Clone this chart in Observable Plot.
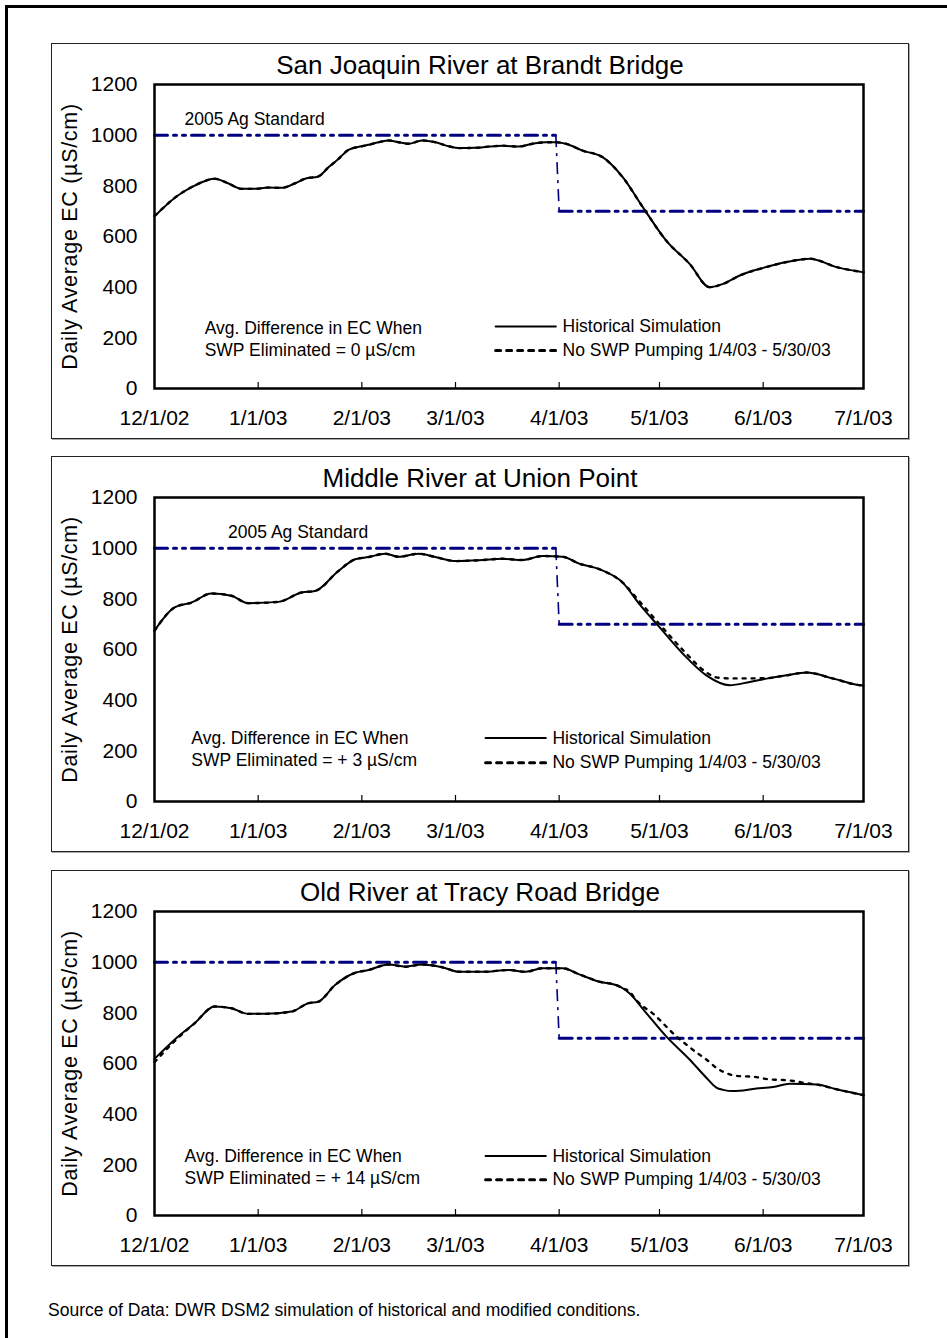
<!DOCTYPE html>
<html><head><meta charset="utf-8">
<script src="https://cdn.jsdelivr.net/npm/d3@7"></script>
<script src="https://cdn.jsdelivr.net/npm/@observablehq/plot@0.6"></script>
<style>
body{margin:0;background:#fff;font-family:"Liberation Sans",Arial,sans-serif;}
#page{position:relative;width:947px;height:1338px;overflow:hidden;background:#fff;}
#outer{position:absolute;left:5px;top:5px;width:1000px;height:1400px;border-left:3px solid #000;border-top:3px solid #000;}
.panel{position:absolute;left:51px;width:858px;height:396px;box-shadow:inset 0 0 0 1px #222,1px 1px 0 #aaa;}
.panel svg{position:absolute;left:0;top:0;}
.panel svg g[aria-label="y-axis label"] text{letter-spacing:0.7px;font-size:21.5px;}
.title{position:absolute;left:0;top:8px;width:858px;text-align:center;font-size:26px;line-height:28px;color:#000;}
#source{position:absolute;left:48px;top:1300px;font-size:17.5px;color:#000;}
</style>
</head><body>
<div id="page">
<div id="outer"></div>
<div id="source">Source of Data: DWR DSM2 simulation of historical and modified conditions.</div>
</div>
<script>
// ---------- axis ticks ----------
const tickDates = ["2002-12-01","2003-01-01","2003-02-01","2003-03-01","2003-04-01","2003-05-01","2003-06-01","2003-07-01"];
const tickLabels = ["12/1/02","1/1/03","2/1/03","3/1/03","4/1/03","5/1/03","6/1/03","7/1/03"];
const yTicks = [0,200,400,600,800,1000,1200];
const yLabel = "Daily Average EC (µS/cm)";

// ---------- 2005 Ag standard (step at 4/1/03) ----------
const stdDates = ["2002-12-01","2003-03-31","2003-04-01","2003-07-01"];
const stdValues = [1000,1000,700,700];

// ---------- panel titles & notes ----------
const titles = ["San Joaquin River at Brandt Bridge","Middle River at Union Point","Old River at Tracy Road Bridge"];
const notes = ["Avg. Difference in EC When\nSWP Eliminated = 0 µS/cm","Avg. Difference in EC When\nSWP Eliminated = + 3 µS/cm","Avg. Difference in EC When\nSWP Eliminated = + 14 µS/cm"];
const noteDates = ["2002-12-16","2002-12-12","2002-12-10"];
const noteValues = [200,210,194];
const stdLabelText = ["2005 Ag Standard","2005 Ag Standard",""];
const stdLabelDates = ["2002-12-10","2002-12-23","2002-12-10"];
const stdLabelValues = [1062,1063,1062];
const legendNames = ["Historical Simulation","No SWP Pumping 1/4/03 - 5/30/03"];
const legendStart = ["2003-03-13","2003-03-10","2003-03-10"];
const legendEnd = ["2003-03-31","2003-03-28","2003-03-28"];
const legendTextDate = ["2003-04-02","2003-03-30","2003-03-30"];
const legendHistY = [245,251,235];
const legendNoSwpY = [150,153,141];

// ---------- San Joaquin River at Brandt Bridge ----------
const sjDates = ["2002-12-01","2002-12-08","2002-12-13","2002-12-19","2002-12-23","2002-12-27","2002-12-31","2003-01-04","2003-01-08","2003-01-12","2003-01-15","2003-01-19","2003-01-22","2003-01-25","2003-01-28","2003-02-01","2003-02-03","2003-02-06","2003-02-09","2003-02-12","2003-02-15","2003-02-19","2003-02-23","2003-02-27","2003-03-02","2003-03-07","2003-03-11","2003-03-15","2003-03-20","2003-03-24","2003-03-28","2003-03-31","2003-04-03","2003-04-08","2003-04-14","2003-04-20","2003-04-26","2003-05-03","2003-05-10","2003-05-16","2003-05-20","2003-05-25","2003-06-01","2003-06-08","2003-06-15","2003-06-23","2003-07-01"];
const sjHist = [680,762,801,828,810,788,788,793,792,810,828,837,873,906,942,956,962,972,979,972,966,979,972,956,949,950,955,958,955,966,972,972,966,939,913,834,716,584,492,400,413,446,476,499,512,479,459];
const sjNoSwp = [680,762,801,828,810,788,788,793,792,810,828,837,873,906,942,956,962,972,979,972,966,979,972,956,949,950,955,958,955,966,972,972,966,939,913,834,716,584,492,400,413,446,476,499,512,479,459];

// ---------- Middle River at Union Point ----------
const muDates = ["2002-12-01","2002-12-07","2002-12-12","2002-12-18","2002-12-24","2002-12-29","2003-01-07","2003-01-14","2003-01-18","2003-01-25","2003-01-30","2003-02-03","2003-02-08","2003-02-12","2003-02-18","2003-02-23","2003-03-01","2003-03-09","2003-03-15","2003-03-21","2003-03-27","2003-04-02","2003-04-07","2003-04-13","2003-04-20","2003-04-25","2003-05-01","2003-05-08","2003-05-15","2003-05-22","2003-05-28","2003-06-02","2003-06-08","2003-06-14","2003-06-22","2003-06-30","2003-07-01"];
const muHist = [674,766,785,821,812,783,788,825,831,910,956,965,978,966,978,965,949,953,958,953,969,966,939,917,864,779,688,583,498,459,472,485,498,509,485,459,458];
const muNoSwpDates = ["2002-12-01","2002-12-07","2002-12-12","2002-12-18","2002-12-24","2002-12-29","2003-01-07","2003-01-14","2003-01-18","2003-01-25","2003-01-30","2003-02-03","2003-02-08","2003-02-12","2003-02-18","2003-02-23","2003-03-01","2003-03-09","2003-03-15","2003-03-21","2003-03-27","2003-04-02","2003-04-07","2003-04-13","2003-04-20","2003-04-25","2003-05-01","2003-05-08","2003-05-15","2003-05-18","2003-05-22","2003-05-28","2003-06-02","2003-06-08","2003-06-14","2003-06-22","2003-06-30","2003-07-01"];
const muNoSwp = [674,766,785,821,812,783,788,825,831,910,956,965,978,966,978,965,949,953,958,953,969,966,939,917,864,790,700,598,510,490,486,486,487,498,509,485,459,458];

// ---------- Old River at Tracy Road Bridge ----------
const orDates = ["2002-12-01","2002-12-07","2002-12-13","2002-12-19","2002-12-24","2002-12-29","2003-01-03","2003-01-11","2003-01-16","2003-01-19","2003-01-24","2003-01-30","2003-02-03","2003-02-09","2003-02-14","2003-02-19","2003-02-25","2003-03-02","2003-03-09","2003-03-17","2003-03-22","2003-03-27","2003-04-02","2003-04-07","2003-04-13","2003-04-18","2003-04-20","2003-04-22","2003-04-27","2003-05-03","2003-05-10","2003-05-15","2003-05-18","2003-05-20","2003-05-23","2003-05-30","2003-06-04","2003-06-09","2003-06-17","2003-06-23","2003-07-01"];
const orHist = [618,694,759,825,818,796,796,805,838,844,910,958,969,991,982,991,980,962,962,969,962,976,976,952,923,910,897,877,800,707,616,544,505,496,491,501,507,520,517,498,475];
const orNoSwpDates = ["2002-12-01","2002-12-07","2002-12-13","2002-12-19","2002-12-24","2002-12-29","2003-01-03","2003-01-11","2003-01-16","2003-01-19","2003-01-24","2003-01-30","2003-02-03","2003-02-09","2003-02-14","2003-02-19","2003-02-25","2003-03-02","2003-03-09","2003-03-17","2003-03-22","2003-03-27","2003-04-02","2003-04-07","2003-04-13","2003-04-18","2003-04-20","2003-04-22","2003-04-24","2003-04-30","2003-05-03","2003-05-06","2003-05-09","2003-05-12","2003-05-15","2003-05-18","2003-05-22","2003-05-25","2003-05-29","2003-06-03","2003-06-07","2003-06-10","2003-06-14","2003-06-17","2003-06-23","2003-07-01"];
const orNoSwp = [605,688,759,825,818,796,796,805,838,844,910,958,969,991,982,991,980,962,962,969,962,976,976,952,923,910,897,884,851,786,746,707,675,644,616,583,557,550,548,537,535,531,522,517,498,475];

// ---------- build ----------
const parse = d3.utcParse("%Y-%m-%d");
const toSeries = (dates, vals) => dates.map((d, i) => ({date: parse(d), value: vals[i]}));
const tickDateObjs = tickDates.map(parse);
const labelByTime = new Map(tickDateObjs.map((d, i) => [+d, tickLabels[i]]));
const innerTicks = tickDateObjs.slice(1, -1);

const panels = [
  {top: 43, hist: toSeries(sjDates, sjHist), noSwp: toSeries(sjDates, sjNoSwp)},
  {top: 456, hist: toSeries(muDates, muHist), noSwp: toSeries(muNoSwpDates, muNoSwp)},
  {top: 870, hist: toSeries(orDates, orHist), noSwp: toSeries(orNoSwpDates, orNoSwp)}
];

const W = 858, H = 396, mT = 41, mB = 51, mL = 103, mR = 46;
const std = toSeries(stdDates, stdValues);
// horizontal pieces (same value) and the step between them
const stdFlat = std.map((d, i) => ({...d, piece: stdValues[i] === stdValues[0] ? "high" : "low"}));
const stdStep = [{x1: std[1].date, y1: std[1].value, x2: std[2].date, y2: std[2].value}];
const page = document.getElementById("page");

panels.forEach((p, k) => {
  const div = document.createElement("div");
  div.className = "panel";
  div.style.top = p.top + "px";
  const t = document.createElement("div");
  t.className = "title";
  t.textContent = titles[k];
  div.appendChild(t);

  const legSolid = [{date: parse(legendStart[k]), value: legendHistY[k]}, {date: parse(legendEnd[k]), value: legendHistY[k]}];
  const legDot = [{date: parse(legendStart[k]), value: legendNoSwpY[k]}, {date: parse(legendEnd[k]), value: legendNoSwpY[k]}];
  const legText = [
    {date: parse(legendTextDate[k]), value: legendHistY[k], text: legendNames[0]},
    {date: parse(legendTextDate[k]), value: legendNoSwpY[k], text: legendNames[1]}
  ];
  const stdLab = stdLabelText[k] ? [{date: parse(stdLabelDates[k]), value: stdLabelValues[k], text: stdLabelText[k]}] : [];
  const note = [{date: parse(noteDates[k]), value: noteValues[k], text: notes[k]}];

  const chart = Plot.plot({
    width: W, height: H,
    marginTop: mT, marginBottom: mB, marginLeft: mL, marginRight: mR,
    style: {background: "transparent", fontFamily: "'Liberation Sans', Arial, sans-serif", fontSize: "21px", color: "#000", overflow: "visible"},
    x: {type: "utc", domain: [tickDateObjs[0], tickDateObjs[tickDateObjs.length - 1]]},
    y: {domain: [0, 1200]},
    marks: [
      Plot.ruleX(innerTicks, {x: d => d, insetTop: H - mT - mB - 6, stroke: "#000", strokeWidth: 1.2}),
      Plot.line(stdFlat, {x: "date", y: "value", z: "piece", stroke: "#000080", strokeWidth: 3, strokeDasharray: "13,6,3,6,3,6"}),
      Plot.link(stdStep, {x1: "x1", y1: "y1", x2: "x2", y2: "y2", stroke: "#000080", strokeWidth: 1.6, strokeDasharray: "12,6,3,6"}),
      Plot.line(p.noSwp, {x: "date", y: "value", stroke: "#000", strokeWidth: 2.4, strokeDasharray: "3,6", curve: "monotone-x"}),
      Plot.line(p.hist, {x: "date", y: "value", stroke: "#000", strokeWidth: 2, curve: "monotone-x"}),
      Plot.text(stdLab, {x: "date", y: "value", text: "text", textAnchor: "start", fontSize: 17.5, fill: "#000"}),
      Plot.text(note, {x: "date", y: "value", text: "text", textAnchor: "start", lineHeight: 1.25, fontSize: 17.5, fill: "#000"}),
      Plot.line(legSolid, {x: "date", y: "value", stroke: "#000", strokeWidth: 2}),
      Plot.line(legDot, {x: "date", y: "value", stroke: "#000", strokeWidth: 3, strokeDasharray: "5,6"}),
      Plot.text(legText, {x: "date", y: "value", text: "text", textAnchor: "start", fontSize: 17.5, fill: "#000"}),
      Plot.frame({stroke: "#000", strokeWidth: 2.5}),
      Plot.axisX(tickDateObjs, {tickSize: 0, tickPadding: 22, tickFormat: d => labelByTime.get(+d), label: null}),
      Plot.axisY(yTicks, {tickSize: 0, tickPadding: 17, tickFormat: d => String(d), label: yLabel, labelAnchor: "center", labelArrow: "none", labelOffset: 93})
    ]
  });
  div.appendChild(chart);
  page.appendChild(div);
});
</script>
</body></html>
